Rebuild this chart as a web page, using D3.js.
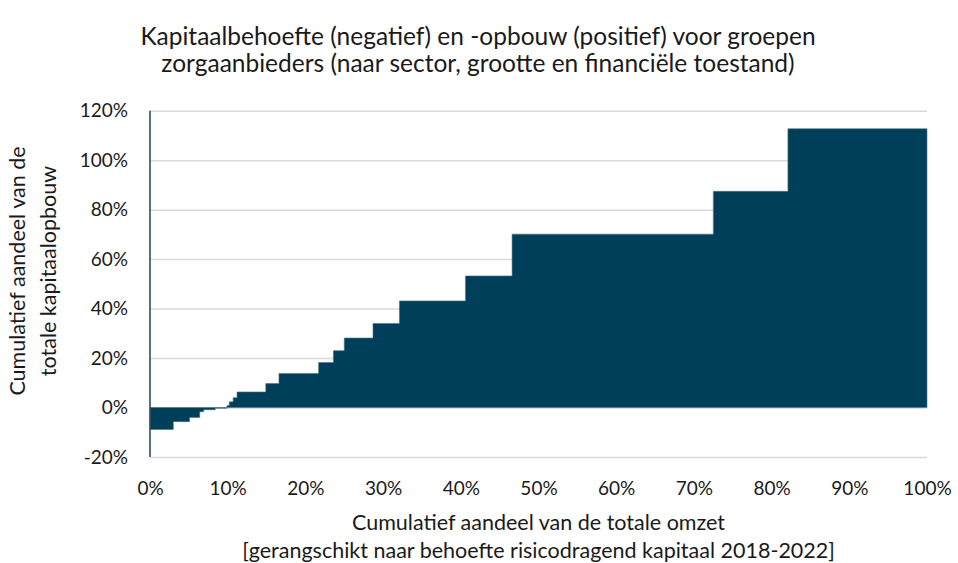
<!DOCTYPE html>
<html>
<head>
<meta charset="utf-8">
<script src="https://cdn.jsdelivr.net/npm/d3@7"></script>
<style>
  html, body { margin: 0; padding: 0; background: #ffffff; }
  svg { display: block; }
  text { font-family: Lato, "Noto Sans", sans-serif; fill: #1a1a1a; }
</style>
</head>
<body>
<svg id="chart" width="958" height="563"></svg>
<script>
// Cumulatief aandeel van de totale omzet (%) waar elke groep begint
const omzetStart = [0, 3.0, 5.1, 6.4, 6.9, 8.4, 9.9, 10.2, 10.7, 11.2, 14.9, 16.6,
                    21.7, 23.6, 25.0, 28.7, 32.1, 40.6, 46.6, 72.5, 82.1];
// Cumulatief aandeel van de totale kapitaalopbouw (%) per groep
const kapitaalCum = [-8.9, -5.7, -4.0, -1.7, -0.9, -0.3, 0.8, 2.3, 4.0, 6.3, 9.7, 13.8,
                     18.2, 23.0, 28.1, 34.0, 43.1, 53.2, 70.1, 87.4, 112.7];
const omzetEinde = 100;

const yTicks = [-20, 0, 20, 40, 60, 80, 100, 120];
const xTicks = [0, 10, 20, 30, 40, 50, 60, 70, 80, 90, 100];

const titelRegels = [
  "Kapitaalbehoefte (negatief) en -opbouw (positief) voor groepen",
  "zorgaanbieders (naar sector, grootte en financiële toestand)"
];
const xTitel = [
  "Cumulatief aandeel van de totale omzet",
  "[gerangschikt naar behoefte risicodragend kapitaal 2018-2022]"
];
const yTitel = ["Cumulatief aandeel van de", "totale kapitaalopbouw"];

const svg = d3.select("#chart");
const plot = { left: 150, right: 927, top: 110.7, bottom: 457 };
const kleur = "#003f5a";

const x = d3.scaleLinear().domain([0, 100]).range([plot.left, plot.right]);
const y = d3.scaleLinear().domain([-20, 120]).range([plot.bottom, plot.top]);

// Horizontale rasterlijnen
const yAxis = d3.axisLeft(y).tickValues(yTicks).tickSize(0).tickPadding(22)
  .tickFormat(d => d + "%");
const gy = svg.append("g").attr("transform", `translate(${plot.left},0)`).call(yAxis);
gy.select(".domain").remove();
gy.selectAll(".tick line").remove();
gy.selectAll(".tick").append("line")
  .attr("x1", 0).attr("x2", plot.right - plot.left)
  .attr("stroke", "#d9d9d9").attr("stroke-width", 1.5);
gy.selectAll(".tick text").style("font-size", "19px").attr("fill", "#1a1a1a");

// Trapvormig vlak van de cumulatieve kapitaalopbouw
const punten = omzetStart.map((s, i) => ({ x: s, y: kapitaalCum[i] }));
punten.push({ x: omzetEinde, y: kapitaalCum[kapitaalCum.length - 1] });

const area = d3.area()
  .curve(d3.curveStepAfter)
  .x(d => x(d.x))
  .y0(y(0))
  .y1(d => y(d.y));

svg.append("path")
  .datum(punten)
  .attr("d", area)
  .attr("fill", kleur)
  .attr("stroke", "#4f7387")
  .attr("stroke-width", 0.6);

// Verticale as
svg.append("line")
  .attr("x1", plot.left).attr("x2", plot.left)
  .attr("y1", plot.top).attr("y2", plot.bottom)
  .attr("stroke", "#2c4f63").attr("stroke-width", 1.6);

// X-as labels
const xAxis = d3.axisBottom(x).tickValues(xTicks).tickSize(0).tickPadding(0)
  .tickFormat(d => d + "%");
const gx = svg.append("g").attr("transform", `translate(0,${plot.bottom})`).call(xAxis);
gx.select(".domain").remove();
gx.selectAll(".tick text")
  .attr("dy", null).attr("y", 38)
  .style("font-size", "19px").attr("fill", "#1a1a1a");

// Titel
svg.append("g").selectAll("text").data(titelRegels).join("text")
  .attr("x", 478).attr("y", (d, i) => 45 + i * 27)
  .attr("text-anchor", "middle")
  .style("font-size", "24.5px")
  .text(d => d);

// As-titels
svg.append("g").selectAll("text").data(xTitel).join("text")
  .attr("x", (plot.left + plot.right) / 2).attr("y", (d, i) => 530 + i * 28)
  .attr("text-anchor", "middle")
  .style("font-size", "21.5px")
  .text(d => d);

svg.append("g").attr("transform", "translate(0,271) rotate(-90)")
  .selectAll("text").data(yTitel).join("text")
  .attr("x", 0).attr("y", (d, i) => 25 + i * 31)
  .attr("text-anchor", "middle")
  .style("font-size", "21.5px")
  .text(d => d);
</script>
</body>
</html>
